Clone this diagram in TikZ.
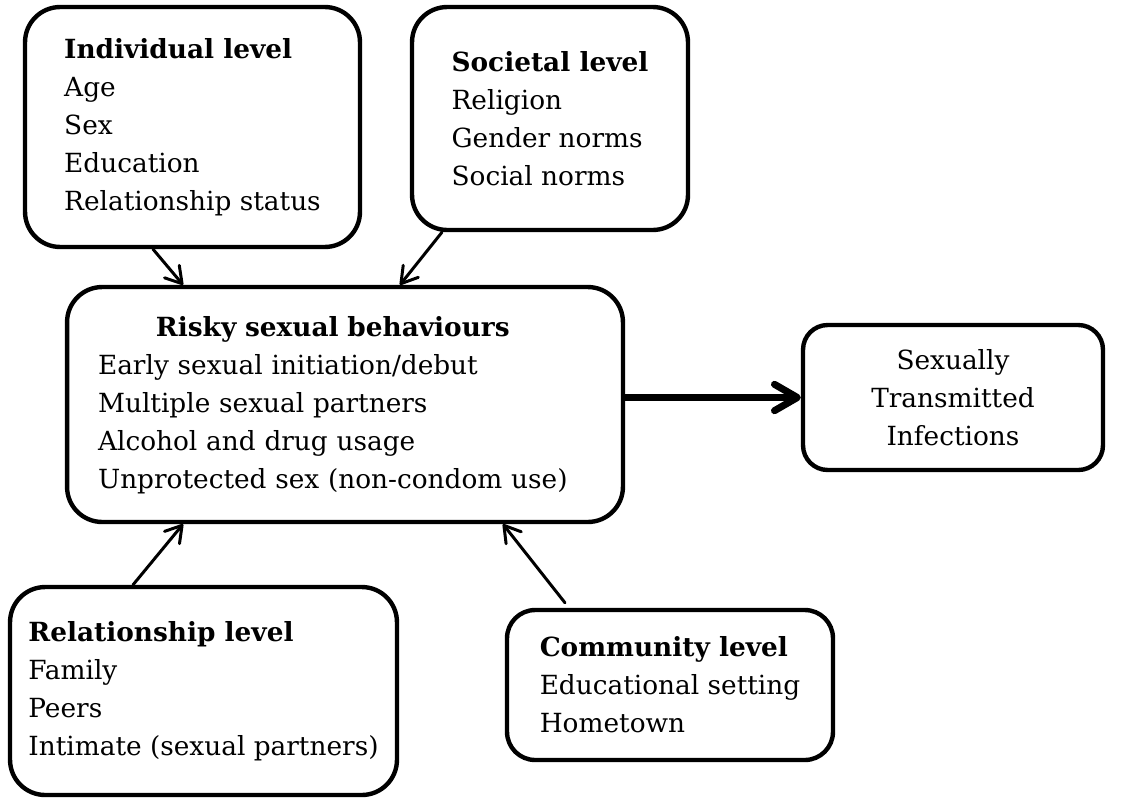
\documentclass[tikz,border=0pt]{standalone}
\usepackage{fontspec}
\setmainfont{DejaVu Serif}
\usetikzlibrary{arrows.meta,positioning}
\tikzset{
  lvlbox/.style={draw, line width=2.5pt, rounded corners=20pt, align=left,
                 inner sep=0pt, font=\fontsize{15}{21.6}\selectfont},
  infl/.style={-{Straight Barb[round, length=9pt, width=11pt]},
               line width=1.7pt, line cap=round},
  outflow/.style={-{Straight Barb[round, length=13pt, width=15pt]},
                  line width=4pt, line cap=round},
}

\begin{document}
\begin{tikzpicture}[x=0.02cm, y=-0.02cm]
\useasboundingbox (0,0) rectangle (1148,798);

% the four levels
\node[lvlbox, minimum width=6.7cm, minimum height=4.8cm] (individual) at (192.5,127)
  {\textbf{Individual level}\\Age\\Sex\\Education\\Relationship status};
\node[lvlbox, minimum width=5.52cm, minimum height=4.46cm] (societal) at (550,118.5)
  {\textbf{Societal level}\\Religion\\Gender norms\\Social norms};
\node[lvlbox, minimum width=7.74cm, minimum height=4.16cm] (relationship) at (203.5,691)
  {\textbf{Relationship level}\\Family\\Peers\\Intimate (sexual partners)};
\node[lvlbox, minimum width=6.52cm, minimum height=3cm, rounded corners=16pt] (community) at (670,685)
  {\textbf{Community level}\\Educational setting\\Hometown};

% behaviours and outcome
\node[lvlbox, minimum height=4.7cm, text width=9.88cm, inner xsep=0.62cm] (risk) at (345,404.5)
  {\begin{tabular}{@{}l@{}}
   \multicolumn{1}{@{}c@{}}{\textbf{Risky sexual behaviours}}\\
   Early sexual initiation/debut\\
   Multiple sexual partners\\
   Alcohol and drug usage\\
   Unprotected sex (non-condom use)
   \end{tabular}};
\node[lvlbox, align=center, minimum width=6cm, minimum height=2.9cm, rounded corners=14pt] (sti) at (953,397.5)
  {Sexually\\Transmitted\\Infections};

% arrows
\draw[infl] ([xshift=-0.79cm]individual.south) -- ([xshift=-3.24cm]risk.north);
\draw[infl] ([xshift=-2.16cm]societal.south) -- ([xshift=1.1cm]risk.north);
\draw[infl] ([xshift=-1.41cm]relationship.north) -- ([xshift=-3.24cm]risk.south);
\draw[infl] ([xshift=-2.1cm,yshift=0.1cm]community.north) -- ([xshift=3.16cm]risk.south);
\draw[outflow] (risk.east |- sti.west) -- (sti.west);

\end{tikzpicture}
\end{document}
